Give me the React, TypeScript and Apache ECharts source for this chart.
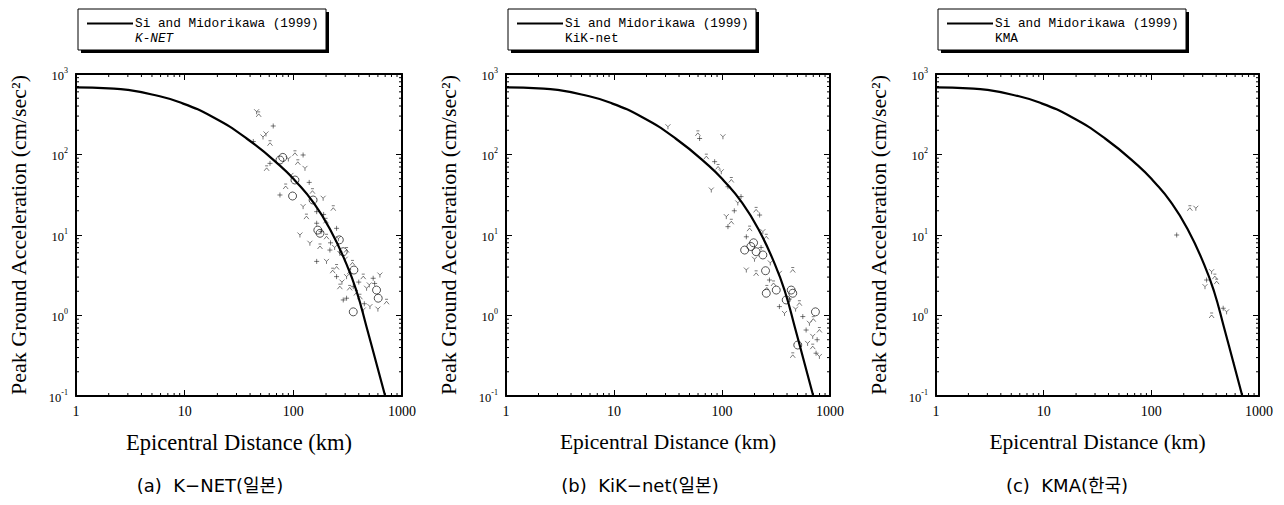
import React, { useEffect, useRef } from "react";
import * as echarts from "echarts";

// Si and Midorikawa (1999) attenuation curve (km, cm/s^2)
const curveDist = [1, 2, 3, 5, 9, 18.3, 37.2, 75.3, 107, 152, 217, 309, 382, 472, 580, 700];
const curvePga = [684, 664, 635, 557, 445, 290, 158, 72.8, 45.2, 25.6, 11.9, 4.32, 2.0, 0.72, 0.257, 0.1];

// K-NET observations
const knetMarks: number[][] = [
  [45.9, 340], [48, 315], [65.3, 226], [52.6, 165], [61, 138], [42.8, 145], [56, 180],
  [103.5, 103.5], [123, 98.6], [128, 67.3], [56.8, 67.3], [61, 77.6], [90, 88], [110, 80],
  [75.3, 31.4], [188, 28.6], [233, 21.5], [164, 19.5], [123, 22.5], [132, 16.9], [164, 14],
  [115, 10], [202, 9.5], [250, 12.1], [142, 7.9], [176, 7.2], [217, 6.5], [268, 5.9], [309, 6.5],
  [164, 4.7], [202, 4.7], [250, 4.0], [250, 3.04], [309, 3.04], [440, 3.04], [543, 2.9], [626, 3.18],
  [268, 2.28], [356, 2.28], [472, 2.18], [410, 1.71], [309, 1.64], [507, 1.29], [721, 1.48],
  [288, 1.56], [440, 1.17], [200, 15], [220, 8], [300, 5], [350, 4.5], [400, 2.6], [500, 2.4],
  [380, 1.9], [450, 1.4], [280, 2.6], [330, 3.5], [180, 11], [240, 7], [150, 35], [140, 45],
  [95, 55], [85, 40], [190, 18], [260, 9], [330, 2.2], [560, 2.5], [600, 1.2], [230, 3.6],
];
const knetCircles: number[][] = [
  [75.3, 85.5], [80, 92], [103.5, 48.2], [98.4, 30.5], [152, 27.2], [176, 10.5], [168, 11.5],
  [265, 8.7], [288, 6.2], [361, 3.67], [583, 2.07], [604, 1.64], [356, 1.11],
];

// KiK-net observations
const kiknetMarks: number[][] = [
  [31.6, 221], [59.8, 183], [62, 158], [102, 166], [71.6, 94], [85.5, 81.5], [98.5, 61],
  [122, 48.2], [113.5, 39.8], [79.6, 36.2], [207, 20.5], [223, 17.7], [109.6, 16.9], [122, 14.6],
  [113.5, 12.7], [239, 11], [257, 9.5], [168, 9.5], [168, 3.67], [207, 3.34], [275, 2.76],
  [340, 3.34], [452, 3.67], [340, 1.29], [379, 1.06], [521, 1.42], [560, 0.97], [645, 0.8],
  [798, 0.66], [601, 0.66], [692, 0.55], [692, 0.41], [743, 0.34], [798, 0.31], [452, 0.32],
  [150, 30], [140, 25], [180, 12], [230, 7], [280, 4.5], [300, 2.5], [420, 1.6], [480, 1.2],
  [700, 0.9], [760, 0.5], [620, 0.45], [92, 70], [130, 20], [200, 5], [260, 2.2],
];
const kiknetCircles: number[][] = [
  [162, 6.5], [196, 8], [207, 6.2], [239, 5.65], [253, 3.6], [257, 1.89], [318, 2.07],
  [437, 2.07], [452, 1.89], [393, 1.56], [733, 1.11], [503, 0.43], [185, 7.2],
];

// KMA observations
const kmaMarks: number[][] = [
  [259, 21.5], [228, 21.5], [172, 10], [363, 3.5], [389, 3.04], [326, 2.76], [315, 2.28],
  [404, 2.63], [465, 1.23], [500, 1.11], [363, 1.0],
];
const kmaCircles: number[][] = [];

const curveName = "Si and Midorikawa (1999)";
const xAxisTitle = "Epicentral Distance (km)";
const yAxisTitle = "Peak Ground Acceleration (cm/sec\u00B2)";

const minorX = [2, 3, 4, 5, 6, 7, 8, 9, 20, 30, 40, 50, 60, 70, 80, 90, 200, 300, 400, 500, 600, 700, 800, 900];
const minorY = [
  0.2, 0.3, 0.4, 0.5, 0.6, 0.7, 0.8, 0.9, 2, 3, 4, 5, 6, 7, 8, 9,
  20, 30, 40, 50, 60, 70, 80, 90, 200, 300, 400, 500, 600, 700, 800, 900,
];

const panels = [
  { left: 76, width: 326, station: "K-NET", italic: true, caption: "(a)  K\u2212NET(\uC77C\uBCF8)", capX: 210, marks: knetMarks, circles: knetCircles, xTitleSize: 22.5 },
  { left: 506, width: 324, station: "KiK-net", italic: false, caption: "(b)  KiK\u2212net(\uC77C\uBCF8)", capX: 640, marks: kiknetMarks, circles: kiknetCircles, xTitleSize: 21.5 },
  { left: 936, width: 323, station: "KMA", italic: false, caption: "(c)  KMA(\uD55C\uAD6D)", capX: 1067, marks: kmaMarks, circles: kmaCircles, xTitleSize: 21.5 },
];

const TOP = 74;
const HEIGHT = 322;

const markA = "path://M0,0 L5,5 L10,0 M5,5 L5,10";
const markB = "path://M0,10 L5,4 L10,10 M2,0 L8,0";
const markC = "path://M0,5 L10,5 M5,0 L5,10";

export default function App() {
  const ref = useRef<HTMLDivElement>(null);

  useEffect(() => {
    if (!ref.current) return;
    const chart = echarts.init(ref.current, undefined, { renderer: "svg" });

    const grid: any[] = [];
    const xAxis: any[] = [];
    const yAxis: any[] = [];
    const series: any[] = [];
    const legend: any[] = [];
    const graphic: any[] = [];

    const axisLine = { show: true, onZero: false, lineStyle: { color: "#000", width: 2 } };
    const axisTick = { show: true, inside: true, length: 6, lineStyle: { color: "#000", width: 1 } };

    panels.forEach((p, i) => {
      grid.push({ left: p.left, top: TOP, width: p.width, height: HEIGHT, show: false });

      const xBase = { type: "log", logBase: 10, gridIndex: i, min: 1, max: 1000, splitNumber: 3, splitLine: { show: false }, axisLine, axisTick };
      xAxis.push({
        ...xBase,
        position: "bottom",
        axisLabel: {
          color: "#000", fontFamily: "Liberation Serif", fontSize: 14, margin: 8,
          showMinLabel: true, showMaxLabel: true,
          formatter: (v: number) => String(Math.round(v)),
        },
        name: xAxisTitle,
        nameLocation: "middle",
        nameGap: 35,
        nameTextStyle: { fontFamily: "Liberation Serif", fontSize: p.xTitleSize, color: "#000" },
      });
      xAxis.push({ ...xBase, position: "top", axisLabel: { show: false } });

      const yBase = { type: "log", logBase: 10, gridIndex: i, min: 0.1, max: 1000, splitNumber: 4, splitLine: { show: false }, axisLine, axisTick };
      yAxis.push({
        ...yBase,
        position: "left",
        axisLabel: {
          margin: 8,
          color: "#000",
          fontFamily: "Liberation Serif",
          showMinLabel: true, showMaxLabel: true,
          formatter: (v: number) => `{b|10}{s|${Math.round(Math.log10(v))}}`,
          rich: {
            b: { fontFamily: "Liberation Serif", fontSize: 12.5, color: "#000", lineHeight: 16, verticalAlign: "bottom" },
            s: { fontFamily: "Liberation Serif", fontSize: 8, color: "#000", lineHeight: 16, verticalAlign: "top" },
          },
        },
        name: yAxisTitle,
        nameLocation: "middle",
        nameRotate: 90,
        nameGap: 47,
        nameTextStyle: { fontFamily: "Liberation Serif", fontSize: 22, color: "#000" },
      });
      yAxis.push({ ...yBase, position: "right", axisLabel: { show: false } });

      const xi = 2 * i;
      const yi = 2 * i;

      series.push({
        type: "line",
        name: curveName,
        xAxisIndex: xi,
        yAxisIndex: yi,
        data: curveDist.map((d, k) => [d, curvePga[k]]),
        symbol: "none",
        showSymbol: false,
        smooth: 0.5,
        lineStyle: { color: "#000", width: 2.2 },
        itemStyle: { color: "#000" },
        z: 4,
        silent: true,
      });
      series.push({
        type: "scatter",
        name: p.station,
        xAxisIndex: xi,
        yAxisIndex: yi,
        data: p.marks,
        symbol: (_v: any, params: any) => (params.dataIndex % 3 === 0 ? markA : params.dataIndex % 3 === 1 ? markB : markC),
        symbolSize: 5,
        itemStyle: { color: "rgba(0,0,0,0)", borderColor: "#111", borderWidth: 0.7 },
        z: 3,
        silent: true,
      });
      series.push({
        type: "scatter",
        name: p.station,
        xAxisIndex: xi,
        yAxisIndex: yi,
        data: p.circles,
        symbol: "circle",
        symbolSize: 8,
        itemStyle: { color: "rgba(0,0,0,0)", borderColor: "#111", borderWidth: 0.9 },
        z: 3,
        silent: true,
      });
      // minor ticks along x (bottom & top)
      series.push({
        type: "custom",
        xAxisIndex: xi,
        yAxisIndex: yi,
        silent: true,
        clip: false,
        z: 5,
        data: minorX.map((v) => [v, 0.1]),
        renderItem: (_params: any, api: any) => {
          const b = api.coord([api.value(0), 0.1]);
          const t = api.coord([api.value(0), 1000]);
          return {
            type: "group",
            children: [
              { type: "line", shape: { x1: b[0], y1: b[1], x2: b[0], y2: b[1] - 3 }, style: { stroke: "#000", lineWidth: 1 } },
              { type: "line", shape: { x1: t[0], y1: t[1], x2: t[0], y2: t[1] + 3 }, style: { stroke: "#000", lineWidth: 1 } },
            ],
          };
        },
      });
      // minor ticks along y (left & right)
      series.push({
        type: "custom",
        xAxisIndex: xi,
        yAxisIndex: yi,
        silent: true,
        clip: false,
        z: 5,
        data: minorY.map((v) => [1, v]),
        renderItem: (_params: any, api: any) => {
          const l = api.coord([1, api.value(1)]);
          const r = api.coord([1000, api.value(1)]);
          return {
            type: "group",
            children: [
              { type: "line", shape: { x1: l[0], y1: l[1], x2: l[0] + 3, y2: l[1] }, style: { stroke: "#000", lineWidth: 1 } },
              { type: "line", shape: { x1: r[0], y1: r[1], x2: r[0] - 3, y2: r[1] }, style: { stroke: "#000", lineWidth: 1 } },
            ],
          };
        },
      });

      const boxX = p.left + 2;
      graphic.push({ type: "rect", z: 1, shape: { x: boxX + 3, y: 12, width: 248, height: 41 }, style: { fill: "#000" } });
      graphic.push({ type: "rect", z: 1, shape: { x: boxX, y: 9, width: 248, height: 41 }, style: { fill: "#fff", stroke: "#000", lineWidth: 1 } });
      graphic.push({
        type: "text",
        z: 1,
        x: p.capX,
        y: 485,
        style: { text: p.caption, fontFamily: "DejaVu Sans, Noto Sans CJK KR", fontSize: 18, fill: "#000", align: "center", verticalAlign: "middle" },
      });

      legend.push({
        left: boxX + 8,
        top: 16,
        orient: "vertical",
        itemWidth: 46,
        itemHeight: 2,
        itemGap: 0,
        padding: 0,
        z: 10,
        selectedMode: false,
        textStyle: { fontFamily: "Liberation Mono", fontSize: 12.75, lineHeight: 15, color: "#000", padding: [0, 0, 0, -3] },
        data: [
          { name: curveName, icon: "rect", itemStyle: { color: "#000", opacity: 1 } },
          { name: p.station, icon: "rect", itemStyle: { opacity: 0 }, textStyle: { fontStyle: p.italic ? "italic" : "normal" } },
        ],
      });
    });

    chart.setOption({
      animation: false,
      backgroundColor: "#fff",
      grid,
      xAxis,
      yAxis,
      series,
      legend,
      graphic,
    });

    return () => chart.dispose();
  }, []);

  return <div ref={ref} style={{ position: "absolute", left: 0, top: 0, width: 1284, height: 505 }} />;
}
